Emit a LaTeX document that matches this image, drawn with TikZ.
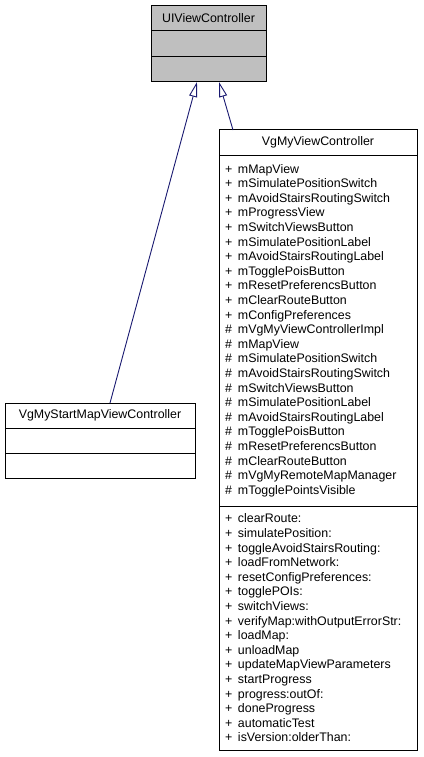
\documentclass[tikz,border=0pt]{standalone}
\usepackage{fontspec}
\setmainfont{Liberation Sans}
\usetikzlibrary{positioning,arrows.meta}
\definecolor{classgray}{RGB}{191,191,191}
\definecolor{edgeblue}{RGB}{25,25,112}
\newcommand{\vis}[1]{\makebox[13pt][l]{#1}}

\begin{document}
\begin{tikzpicture}[x=1pt,y=-1pt,font=\fontsize{12.4}{14.6}\selectfont,
  part/.style={draw=black, line width=1pt, inner sep=0pt, outer sep=0pt, minimum width=#1},
  members/.style={part=#1, text width=#1-12pt, inner xsep=6pt, align=left},
  inherit/.style={draw=edgeblue, line width=0.9pt, -{Triangle[open, length=15pt, width=8pt]}}]
\useasboundingbox (0,0) rectangle (423,757);
\node [part=115pt, fill=classgray, minimum height=25pt] (uihead) at (208.5,18.5) {UIViewController};
\node [part=115pt, fill=classgray, minimum height=26pt, below=0pt of uihead] (uiattr) {};
\node [part=115pt, fill=classgray, minimum height=25pt, below=0pt of uiattr] (uimeth) {};
\node [part=190pt, fill=white, minimum height=25pt] (smvhead) at (100,415.5) {VgMyStartMapViewController};
\node [part=190pt, minimum height=25pt, below=0pt of smvhead] (smvattr) {};
\node [part=190pt, minimum height=25pt, below=0pt of smvattr] (smvmeth) {};
\node [part=198pt, minimum height=25pt] (vmchead) at (318,142.5) {VgMyViewController};
\node [members=198pt, minimum height=351pt, below=0pt of vmchead] (vmcattr) {%
\vis{+}mMapView\\
\vis{+}mSimulatePositionSwitch\\
\vis{+}mAvoidStairsRoutingSwitch\\
\vis{+}mProgressView\\
\vis{+}mSwitchViewsButton\\
\vis{+}mSimulatePositionLabel\\
\vis{+}mAvoidStairsRoutingLabel\\
\vis{+}mTogglePoisButton\\
\vis{+}mResetPreferencsButton\\
\vis{+}mClearRouteButton\\
\vis{+}mConfigPreferences\\
\vis{\#}mVgMyViewControllerImpl\\
\vis{\#}mMapView\\
\vis{\#}mSimulatePositionSwitch\\
\vis{\#}mAvoidStairsRoutingSwitch\\
\vis{\#}mSwitchViewsButton\\
\vis{\#}mSimulatePositionLabel\\
\vis{\#}mAvoidStairsRoutingLabel\\
\vis{\#}mTogglePoisButton\\
\vis{\#}mResetPreferencsButton\\
\vis{\#}mClearRouteButton\\
\vis{\#}mVgMyRemoteMapManager\\
\vis{\#}mTogglePointsVisible};
\node [members=198pt, minimum height=244pt, below=0pt of vmcattr] (vmcmeth) {%
\vis{+}clearRoute:\\
\vis{+}simulatePosition:\\
\vis{+}toggleAvoidStairsRouting:\\
\vis{+}loadFromNetwork:\\
\vis{+}resetConfigPreferences:\\
\vis{+}togglePOIs:\\
\vis{+}switchViews:\\
\vis{+}verifyMap:withOutputErrorStr:\\
\vis{+}loadMap:\\
\vis{+}unloadMap\\
\vis{+}updateMapViewParameters\\
\vis{+}startProgress\\
\vis{+}progress:outOf:\\
\vis{+}doneProgress\\
\vis{+}automaticTest\\
\vis{+}isVersion:olderThan:};
\draw [inherit] ([xshift=10pt]smvhead.north) to ([xshift=-11.5pt]uimeth.south);
\draw [inherit] ([xshift=14pt]vmchead.north west) to ([xshift=10.5pt]uimeth.south);
\end{tikzpicture}
\end{document}
